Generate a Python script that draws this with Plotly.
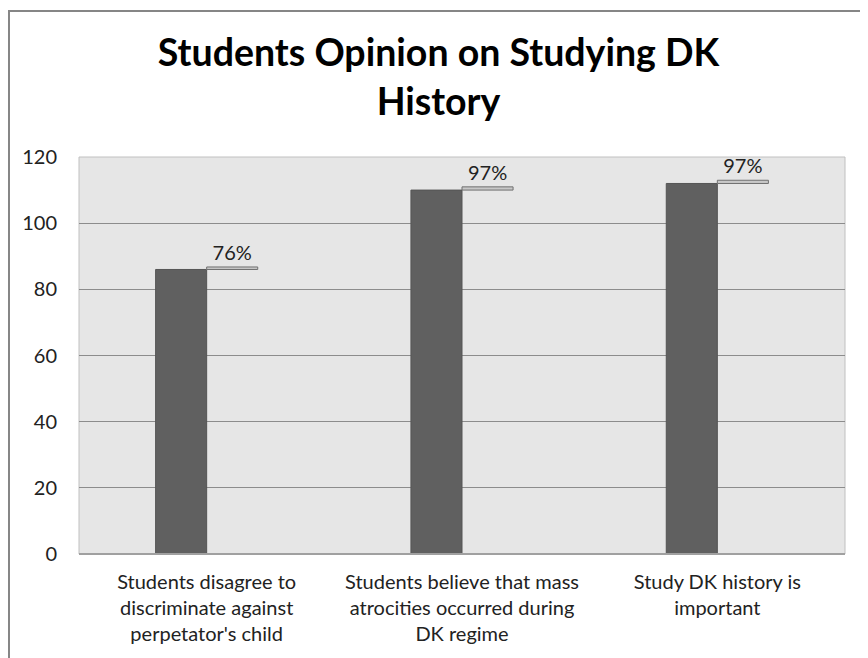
import plotly.graph_objects as go

categories = [
    "Students disagree to<br>discriminate against<br>perpetator's child",
    "Students believe that mass<br>atrocities occurred during<br>DK regime",
    "Study DK history is<br>important",
]
student_counts = [86, 110, 112]
percent_values = [0.76, 0.97, 0.97]
percent_labels = ["76%", "97%", "97%"]
y_ticks = [0, 20, 40, 60, 80, 100, 120]

FONT = "Lato, 'Open Sans', sans-serif"

fig = go.Figure()
fig.add_trace(go.Bar(
    x=categories, y=student_counts,
    offset=-0.2, width=0.2,
    marker=dict(color="#606060", line=dict(color="#555555", width=1)),
    showlegend=False, hoverinfo="skip",
))
fig.add_trace(go.Bar(
    x=categories, y=percent_values, base=student_counts,
    offset=0.0, width=0.2,
    marker=dict(color="#C8C8C8", line=dict(color="#707070", width=1)),
    text=percent_labels, textposition="outside", cliponaxis=False,
    textfont=dict(family=FONT, size=20, color="#222222"),
    showlegend=False, hoverinfo="skip",
))

fig.update_layout(
    width=868, height=658,
    margin=dict(l=71, r=31, t=149, b=112),
    paper_bgcolor="white", plot_bgcolor="#E6E6E6",
    barmode="overlay",
    title=dict(
        text="<b>Students Opinion on Studying DK<br>History</b>",
        x=0.496, xanchor="center", xref="container",
        y=0.912, yanchor="top", yref="container",
        font=dict(family=FONT, size=37.5, color="#000000"),
    ),
    font=dict(family=FONT, size=20, color="#222222"),
    xaxis=dict(
        showgrid=False, showline=False, zeroline=False,
        ticks="", ticklabelstandoff=14,
        tickfont=dict(family=FONT, size=20, color="#222222"),
    ),
    yaxis=dict(
        range=[0, 120], tickvals=y_ticks,
        showgrid=True, gridcolor="#8C8C8C", gridwidth=1,
        zeroline=False, showline=False, ticks="",
        ticklabelstandoff=21,
        tickfont=dict(family=FONT, size=20, color="#222222"),
    ),
    shapes=[
        dict(type="rect", xref="paper", yref="paper", x0=0, x1=1, y0=0, y1=1,
             line=dict(color="#C0C0C0", width=1), layer="below"),
        dict(type="line", xref="paper", yref="paper", x0=0, x1=1, y0=0, y1=0,
             line=dict(color="#A0A0A0", width=2)),
        dict(type="rect", xref="paper", yref="paper",
             x0=-0.0914, x1=1.3, y0=-0.5, y1=1.368,
             line=dict(color="#868686", width=2)),
    ],
)

fig.write_html("out.html")
